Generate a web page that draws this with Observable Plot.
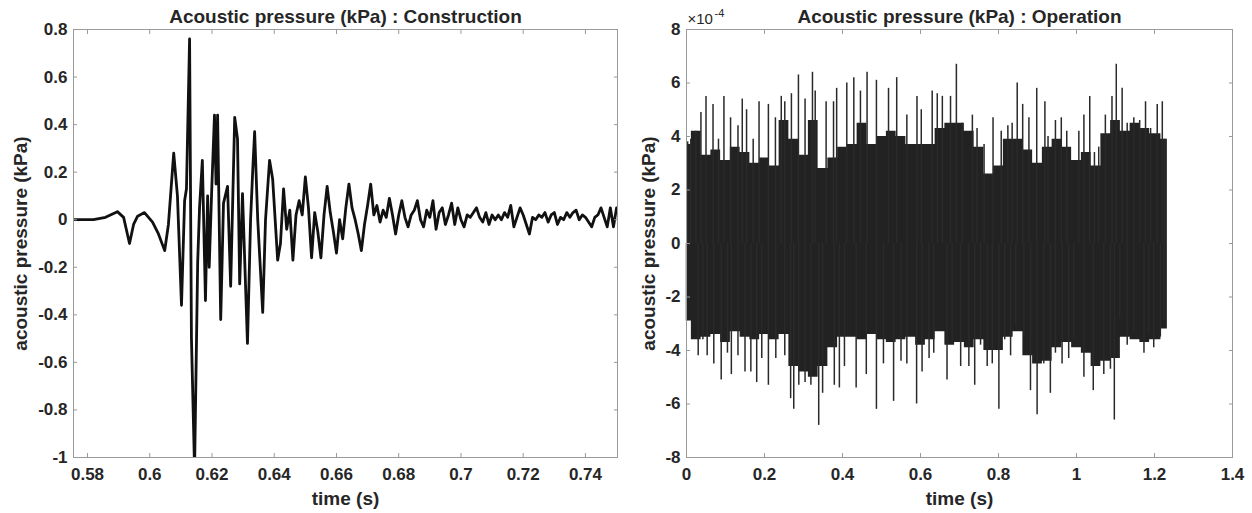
<!DOCTYPE html>
<html><head><meta charset="utf-8">
<script src="https://cdn.jsdelivr.net/npm/d3@7"></script>
<script src="https://cdn.jsdelivr.net/npm/@observablehq/plot@0.6"></script>
<style>
body{margin:0;background:#fff;}
#wrap{display:flex;width:1252px;height:513px;}
</style></head><body><div id="wrap"></div>
<script>
// ---------- Construction (left) : time (s) and acoustic pressure (kPa) ----------
const constrTime = [0.5755,0.5819,0.5858,0.5896,0.5916,0.5935,0.5948,0.5961,0.5983,0.6009,0.6028,0.6048,0.6060,0.6077,0.6089,0.6102,0.6112,0.6118,0.6128,0.6134,0.6144,0.6154,0.6160,0.6169,0.6179,0.6186,0.6191,0.6199,0.6208,0.6213,0.6218,0.6228,0.6237,0.6250,0.6260,0.6273,0.6282,0.6289,0.6298,0.6314,0.6324,0.6331,0.6337,0.6347,0.6363,0.6372,0.6385,0.6395,0.6411,
  0.642,0.643,0.644,0.645,0.646,0.647,0.648,0.649,0.650,0.651,0.652,0.653,0.654,0.655,0.656,0.657,0.658,0.659,0.660,0.661,0.662,0.663,0.664,0.665,0.666,0.667,0.668,0.669,0.670,0.671,0.672,0.673,0.674,0.675,0.676,0.677,0.678,0.679,0.680,0.681,0.682,0.683,0.684,0.685,0.686,0.687,0.688,0.689,0.690,0.691,0.692,0.693,0.694,0.695,0.696,0.697,0.698,0.699,0.700,0.701,0.702,0.703,0.704,0.705,0.706,0.707,0.708,0.709,0.710,0.711,0.712,0.713,0.714,0.715,0.716,0.717,0.718,0.719,0.720,0.721,0.722,0.723,0.724,0.725,0.726,0.727,0.728,0.729,0.730,0.731,0.732,0.733,0.734,0.735,0.736,0.737,0.738,0.739,0.740,0.741,0.742,0.743,0.744,0.745,0.746,0.747,0.748,0.749,0.750];
const constrPressure = [0,0,0.01,0.034,0.01,-0.10,-0.02,0.015,0.03,-0.01,-0.06,-0.13,-0.02,0.28,0.10,-0.36,0.08,0.13,0.76,-0.50,-1.05,-0.18,0.05,0.25,-0.34,0.10,-0.20,0.12,0.44,0.15,0.44,-0.42,0.07,0.14,-0.28,0.43,0.34,-0.27,0.11,-0.52,0.0,0.21,0.37,0.0,-0.39,0.0,0.25,0.17,-0.17,
  -0.10,0.13,-0.04,0.04,-0.17,0.02,0.08,0.02,0.18,0.05,-0.16,0.03,-0.05,-0.16,0.02,0.14,0.03,-0.05,-0.14,0.00,-0.08,0.05,0.15,0.05,0.00,-0.06,-0.13,-0.02,0.06,0.15,0.02,0.06,-0.01,0.04,0.01,0.09,0.02,-0.06,0.02,0.08,0.01,-0.03,0.02,0.04,0.08,0.00,-0.03,0.04,0.01,0.08,-0.04,0.03,0.05,-0.02,0.02,0.07,-0.02,0.05,0.00,-0.03,0.02,0.01,0.03,0.05,0.01,-0.01,0.03,-0.02,0.02,0.00,0.02,0.00,0.03,0.01,0.06,-0.03,0.01,0.05,0.02,-0.02,-0.06,0.01,0.00,0.02,0.01,0.03,-0.01,0.02,0.03,-0.02,0.01,0.00,0.03,0.01,0.03,0.04,0.00,0.02,0.01,-0.01,-0.03,0.01,0.02,0.05,0.01,-0.03,0.05,-0.03,0.05];
const constrXTicks = [0.58,0.60,0.62,0.64,0.66,0.68,0.70,0.72,0.74];
const constrYTicks = [-1,-0.8,-0.6,-0.4,-0.2,0,0.2,0.4,0.6,0.8];

// ---------- Operation (right) : pressure in units of 1e-4 kPa ----------
const opPeakTime = [0.003,0.011,0.024,0.037,0.050,0.068,0.082,0.096,0.113,0.132,0.143,0.154,0.171,0.186,0.210,0.228,0.243,0.252,0.269,0.287,0.304,0.323,0.330,0.358,0.377,0.385,0.411,0.429,0.446,0.463,0.487,0.518,0.539,0.565,0.591,0.602,0.630,0.643,0.656,0.677,0.692,0.707,0.733,0.745,0.763,0.786,0.807,0.824,0.835,0.848,0.862,0.878,0.898,0.919,0.927,0.946,0.961,0.975,1.006,1.019,1.034,1.046,1.057,1.074,1.091,1.102,1.117,1.130,1.147,1.162,1.177,1.190,1.207,1.220,1.226];
const opPeakValue = [3.8,3.9,4.2,4.9,5.5,5.2,3.9,5.5,4.7,4.4,5.4,5.0,3.9,5.3,5.2,4.7,5.5,5.3,5.6,6.3,5.4,6.4,5.7,5.3,5.3,5.8,6.0,6.2,5.7,6.4,6.1,5.8,6.2,4.8,5.5,5.0,5.7,5.6,5.5,5.5,6.7,4.5,4.8,4.3,3.7,4.7,4.2,4.4,4.5,6.0,5.2,4.7,5.8,5.3,4.0,4.6,4.7,4.2,4.2,4.8,5.5,3.4,3.6,4.8,5.5,6.7,5.8,4.5,4.7,4.6,5.3,4.3,5.2,5.3,3.9];
const opTroughTime = [0.000,0.030,0.042,0.053,0.070,0.089,0.105,0.115,0.132,0.150,0.165,0.180,0.193,0.210,0.229,0.252,0.267,0.275,0.288,0.304,0.319,0.339,0.349,0.379,0.392,0.405,0.435,0.461,0.487,0.505,0.531,0.550,0.565,0.590,0.604,0.622,0.634,0.668,0.681,0.703,0.724,0.739,0.754,0.771,0.784,0.801,0.816,0.831,0.844,0.865,0.882,0.899,0.916,0.933,0.946,0.963,0.980,0.993,1.019,1.043,1.070,1.087,1.097,1.111,1.130,1.147,1.173,1.185,1.198,1.215,1.224];
const opTroughValue = [-2.9,-4.2,-3.6,-4.2,-4.5,-5.1,-4.1,-4.9,-4.2,-4.8,-4.8,-5.2,-4.3,-5.3,-4.3,-4.2,-5.8,-6.2,-5.3,-5.2,-5.3,-6.8,-5.6,-5.3,-5.4,-4.6,-5.4,-4.9,-6.2,-4.5,-5.9,-4.4,-4.5,-6.0,-4.8,-4.3,-4.1,-5.1,-3.7,-4.6,-4.6,-5.3,-3.8,-4.6,-4.5,-6.2,-3.6,-4.2,-3.1,-3.5,-5.5,-6.4,-4.5,-5.6,-4.1,-4.5,-4.3,-3.6,-5.0,-5.5,-4.9,-4.7,-6.6,-2.8,-3.8,-3.3,-4.1,-3.4,-3.9,-3.5,-2.9];
const opCoreTime = [0,0.025,0.05,0.075,0.10,0.125,0.15,0.175,0.20,0.225,0.25,0.275,0.30,0.325,0.35,0.375,0.40,0.425,0.45,0.475,0.50,0.525,0.55,0.575,0.60,0.625,0.65,0.675,0.70,0.725,0.75,0.775,0.80,0.825,0.85,0.875,0.90,0.925,0.95,0.975,1.00,1.025,1.05,1.075,1.10,1.125,1.15,1.175,1.20,1.233];
const opCoreHigh = [3.7,4.2,3.3,3.5,3.1,3.6,3.4,3.0,3.2,2.9,4.6,3.9,3.3,4.6,2.8,3.2,3.6,3.7,4.5,3.7,4.0,4.2,4.0,3.7,3.7,3.7,4.3,4.5,4.5,4.2,3.6,2.6,2.9,3.9,3.9,3.5,3.0,3.6,3.9,3.6,3.1,3.4,2.9,4.1,4.6,4.2,4.5,4.3,4.1,3.9];
const opCoreLow = [-2.9,-3.6,-3.5,-3.4,-3.7,-3.3,-3.5,-3.6,-3.4,-3.6,-3.4,-4.6,-4.8,-5.0,-4.6,-3.9,-3.5,-3.5,-3.6,-3.4,-3.6,-3.7,-3.6,-3.5,-3.8,-3.6,-3.3,-3.8,-3.7,-3.9,-3.6,-4.0,-4.0,-3.5,-3.3,-4.2,-4.5,-4.4,-3.9,-3.7,-3.9,-4.1,-4.6,-4.4,-4.3,-3.5,-3.6,-3.7,-3.6,-3.2];
const opXTicks = [0,0.2,0.4,0.6,0.8,1,1.2,1.4];
const opYTicks = [-8,-6,-4,-2,0,2,4,6,8];

// ---------- tables ----------
const constr = constrTime.map((t, i) => ({t, p: constrPressure[i]}));
const peaks = opPeakTime.map((t, i) => ({t, v: opPeakValue[i]}));
const troughs = opTroughTime.map((t, i) => ({t, v: opTroughValue[i]}));
const core = opCoreTime.map((t, i) => ({t, hi: opCoreHigh[i], lo: opCoreLow[i]}));

const FONT = "'Liberation Sans', Arial, Helvetica, sans-serif";
const TXT = "#262626";
const AX = "#9a9a9a";

function frameAxes(xt, yt, xf, yf) {
  const lab = {tickSize: 0, fontSize: 17, fontWeight: "bold", fill: TXT, label: null};
  const tk = {tickSize: -4, fill: "none", stroke: AX, label: null};
  return [
    Plot.frame({stroke: AX}),
    Plot.axisX(xt, {...lab, anchor: "bottom", tickPadding: 10, tickFormat: xf}),
    Plot.axisY(yt, {...lab, anchor: "left", tickPadding: 6, tickFormat: yf}),
    Plot.axisX(xt, {...tk, anchor: "bottom"}),
    Plot.axisX(xt, {...tk, anchor: "top"}),
    Plot.axisY(yt, {...tk, anchor: "left"}),
    Plot.axisY(yt, {...tk, anchor: "right"})
  ];
}
function titles(title, ylabDx) {
  return [
    Plot.text([title], {frameAnchor: "top", dy: -13, fontSize: 19, fontWeight: "bold", fill: TXT, lineAnchor: "middle"}),
    Plot.text(["time (s)"], {frameAnchor: "bottom", dy: 41, fontSize: 19, fontWeight: "bold", fill: TXT, lineAnchor: "middle", textAnchor: "middle"}),
    Plot.text(["acoustic pressure (kPa)"], {frameAnchor: "left", dx: ylabDx, rotate: -90, fontSize: 19, fontWeight: "bold", fill: TXT, lineAnchor: "middle", textAnchor: "middle"})
  ];
}

const left = Plot.plot({
  width: 626, height: 513,
  marginLeft: 73, marginRight: 9, marginTop: 29, marginBottom: 56,
  style: {fontFamily: FONT, background: "white", overflow: "visible"},
  x: {domain: [0.5755, 0.7503], label: null},
  y: {domain: [-1, 0.8], label: null},
  marks: [
    Plot.line(constr, {x: "t", y: "p", stroke: "#111", strokeWidth: 2.8, clip: true}),
    ...frameAxes(constrXTicks, constrYTicks, d => String(+d.toFixed(2)), d => String(+d.toFixed(1))),
    ...titles("Acoustic pressure (kPa) : Construction", -53)
  ]
});

const right = Plot.plot({
  width: 626, height: 513,
  marginLeft: 60, marginRight: 20, marginTop: 29, marginBottom: 56,
  style: {fontFamily: FONT, background: "white", overflow: "visible"},
  x: {domain: [0, 1.4], label: null},
  y: {domain: [-8, 8], label: null},
  marks: [
    Plot.areaY(core, {x: "t", y1: "lo", y2: "hi", fill: "#222", curve: "step"}),
    Plot.ruleX(peaks, {x: "t", y1: 0, y2: "v", stroke: "#2a2a2a", strokeWidth: 1.5}),
    Plot.ruleX(troughs, {x: "t", y1: 0, y2: "v", stroke: "#2a2a2a", strokeWidth: 1.5}),
    ...frameAxes(opXTicks, opYTicks, d => String(+d.toFixed(1)), d => String(d)),
    Plot.text(["×10"], {frameAnchor: "top-left", dy: -10, dx: 1, textAnchor: "start", fontSize: 15, fill: TXT, lineAnchor: "middle"}),
    Plot.text(["-4"], {frameAnchor: "top-left", dy: -16, dx: 28, textAnchor: "start", fontSize: 11, fill: TXT, lineAnchor: "middle"}),
    ...titles("Acoustic pressure (kPa) : Operation", -38)
  ]
});

document.getElementById("wrap").append(left, right);
</script>
</body></html>
